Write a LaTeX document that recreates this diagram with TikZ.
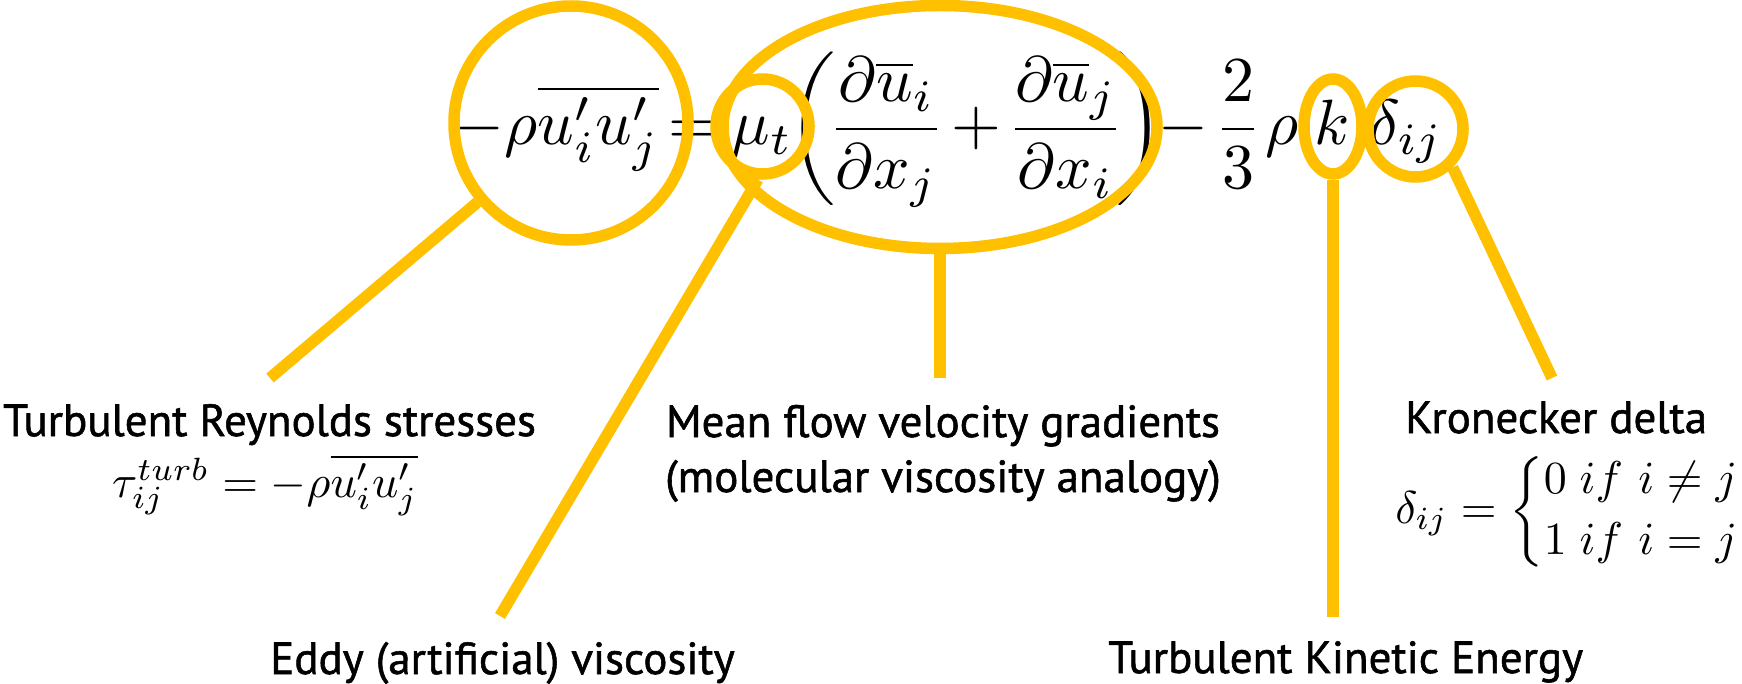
\documentclass[tikz,border=0pt]{standalone}
\usepackage{amsmath}
\usepackage[no-math]{fontspec}
\newfontfamily\labfont[FakeBold=1.2]{PT Sans}
\usetikzlibrary{shapes.geometric}
\definecolor{gold}{HTML}{FFC000}
\newcommand{\parstrut}{\rule[-0.92em]{0pt}{2.34em}}
\newcommand{\bracestrut}{\rule[-1.05em]{0pt}{2.6em}}
\tikzset{
  eqn/.style={inner sep=0pt, anchor=base, scale=6.4},
  eqs/.style={inner sep=0pt, scale=4.6},
  lab/.style={inner sep=0pt, font=\labfont\fontsize{45}{55}\selectfont},
  ring/.style={ellipse, draw=gold, line width=11.5pt, inner sep=0pt},
  conn/.style={draw=gold, line width=11.5pt},
}
\begin{document}
\begin{tikzpicture}[x=1pt, y=-1pt]
\fill[white] (0,0) rectangle (1742,684);
\useasboundingbox (0,0) rectangle (1742,684);
% main equation
\node[eqn] (m1) at (557,145) {$-\rho\overline{u'_iu'_j}$};
\node[eqn] (m2) at (693.5,145) {$=$};
\node[eqn] (m3) at (762,145) {$\mu_t$};
\node[eqn] (m4) at (976,145) {$\nulldelimiterspace=0pt\displaystyle\mathopen{\left(\parstrut\right.}\frac{\partial\overline{u}_i}{\partial x_j}+\frac{\partial\overline{u}_j}{\partial x_i}\mathclose{\left.\parstrut\right)}$};
\node[eqn] (m5) at (1183,145) {$-$};
\node[eqn] (m6) at (1238,145) {$\displaystyle\frac{2}{3}$};
\node[eqn] (m7) at (1282,145) {$\rho$};
\node[eqn] (m8) at (1332,145) {$k$};
\node[eqn] (m9) at (1406,145) {$\delta_{ij}$};
% rings
\node[ring, minimum width=234pt, minimum height=234pt] (e1) at (571,123) {};
\node[ring, minimum width=434pt, minimum height=243pt] (e3) at (940,127) {};
\node[ring, minimum width=93pt, minimum height=95pt] (e2) at (762.5,126.5) {};
\node[ring, minimum width=58pt, minimum height=95pt] (e4) at (1333,126.5) {};
\node[ring, minimum width=95pt, minimum height=96pt] (e5) at (1415.5,129) {};
% labels
\node[lab, anchor=base west] (l1) at (3,436) {Turbulent Reynolds stresses};
\node[eqs, anchor=base] (q1) at (265,497) {$\tau_{ij}^{turb}=-\rho\overline{u'_iu'_j}$};
\node[lab, anchor=base west] (l2) at (270,674) {Eddy (artificial) viscosity};
\node[lab, anchor=base, align=center] (l3) at (943,492) {Mean flow velocity gradients\\(molecular viscosity analogy)};
\node[lab, anchor=base west] (l4) at (1405,433) {Kronecker delta};
\node[eqs, anchor=base east] (q2) at (1738,523) {$\nulldelimiterspace=0pt\renewcommand{\arraystretch}{1.1}\delta_{ij}=\left\{\bracestrut\begin{array}{@{}l@{}}0\;if\ i\neq j\\1\;if\ i=j\end{array}\right.$};
\node[lab, anchor=base west] (l5) at (1108,673) {Turbulent Kinetic Energy};
% connectors
\coordinate (c1) at (270,378);
\coordinate (c2) at (500,616);
\coordinate (c3) at (940,378);
\coordinate (c4) at (1333,617);
\coordinate (c5) at (1552,378);
\draw[conn] (e1) -- (c1);
\draw[conn] (e2.265) -- (c2);
\draw[conn] (e3.south) -- (c3);
\draw[conn] (e4.south) -- (c4);
\draw[conn] (e5.314) -- (c5);
\end{tikzpicture}
\end{document}
